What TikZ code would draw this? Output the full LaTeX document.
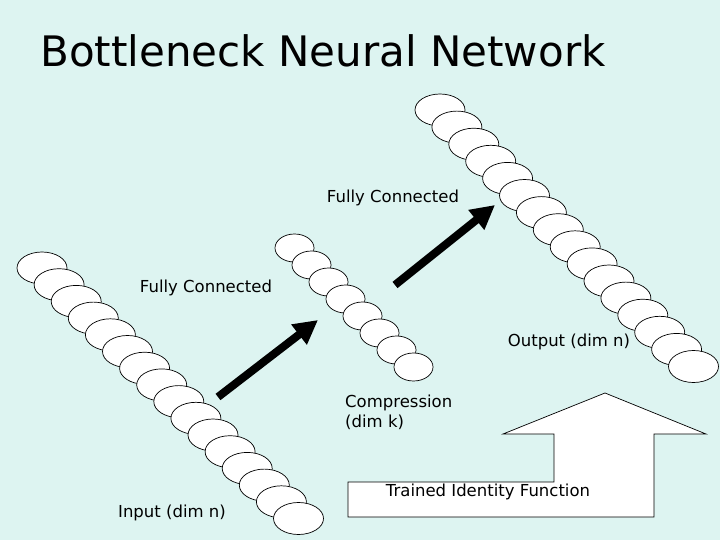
\documentclass[tikz,border=0pt]{standalone}
\usepackage{fontspec}
\setmainfont{DejaVu Sans}
\usetikzlibrary{arrows.meta,shapes.geometric}
\definecolor{bgcyan}{HTML}{DDF4F1}
\begin{document}
\begin{tikzpicture}[
    x=1pt, y=-1pt,
    unit/.style={draw, ellipse, fill=white, line width=0.7pt, inner sep=0pt},
    inunit/.style={unit, minimum width=50pt, minimum height=32pt},
    midunit/.style={unit, minimum width=39pt, minimum height=28pt},
    lbl/.style={font=\fontsize{16.5}{20}\selectfont, align=left},
    fat/.style={line width=8pt, -{Triangle[length=24pt,width=24pt]}},
  ]
    \fill[bgcyan] (0,0) rectangle (720,540);
    \useasboundingbox (0,0) rectangle (720,540);
    % Title
    \node[anchor=base west, font=\fontsize{42}{46}\selectfont, inner sep=0pt] (title) at (40,67) {Bottleneck Neural Network};
    % Layers
    \foreach \i in {0,...,15}
      \node[inunit] (in\i) at ({42+17.1*\i},{268+16.7*\i}) {};
    \foreach \i in {0,...,7}
      \node[midunit] (mid\i) at ({294.5+17*\i},{248+17*\i}) {};
    \foreach \i in {0,...,15}
      \node[inunit] (out\i) at ({440+16.9*\i},{110+17.1*\i}) {};
    % Labels
    \node[lbl] (fc1) at (206,288) {Fully Connected};
    \node[lbl] (fc2) at (393,198) {Fully Connected};
    \node[lbl] (outl) at (569,342) {Output (dim n)};
    \node[lbl, anchor=north west, inner sep=0pt] (comp) at (345,395) {Compression\\(dim k)};
    \node[lbl] (inl) at (172,513) {Input (dim n)};
    % Arrows
    \coordinate (a1s) at (218,397);
    \coordinate (a1e) at (318,320);
    \coordinate (a2s) at (395,285);
    \coordinate (a2e) at (495,205);
    \draw[fat] (a1s) -- (a1e);
    \draw[fat] (a2s) -- (a2e);
    % Identity arrow
    \draw[fill=white, line width=0.7pt] (348,517) -- (348,482) -- (554,482) -- (554,434) -- (503,434)
      -- (605,393) -- (706,434) -- (654,434) -- (654,517) -- cycle;
    \node[lbl] (ident) at (488,492) {Trained Identity Function};
\end{tikzpicture}
\end{document}
